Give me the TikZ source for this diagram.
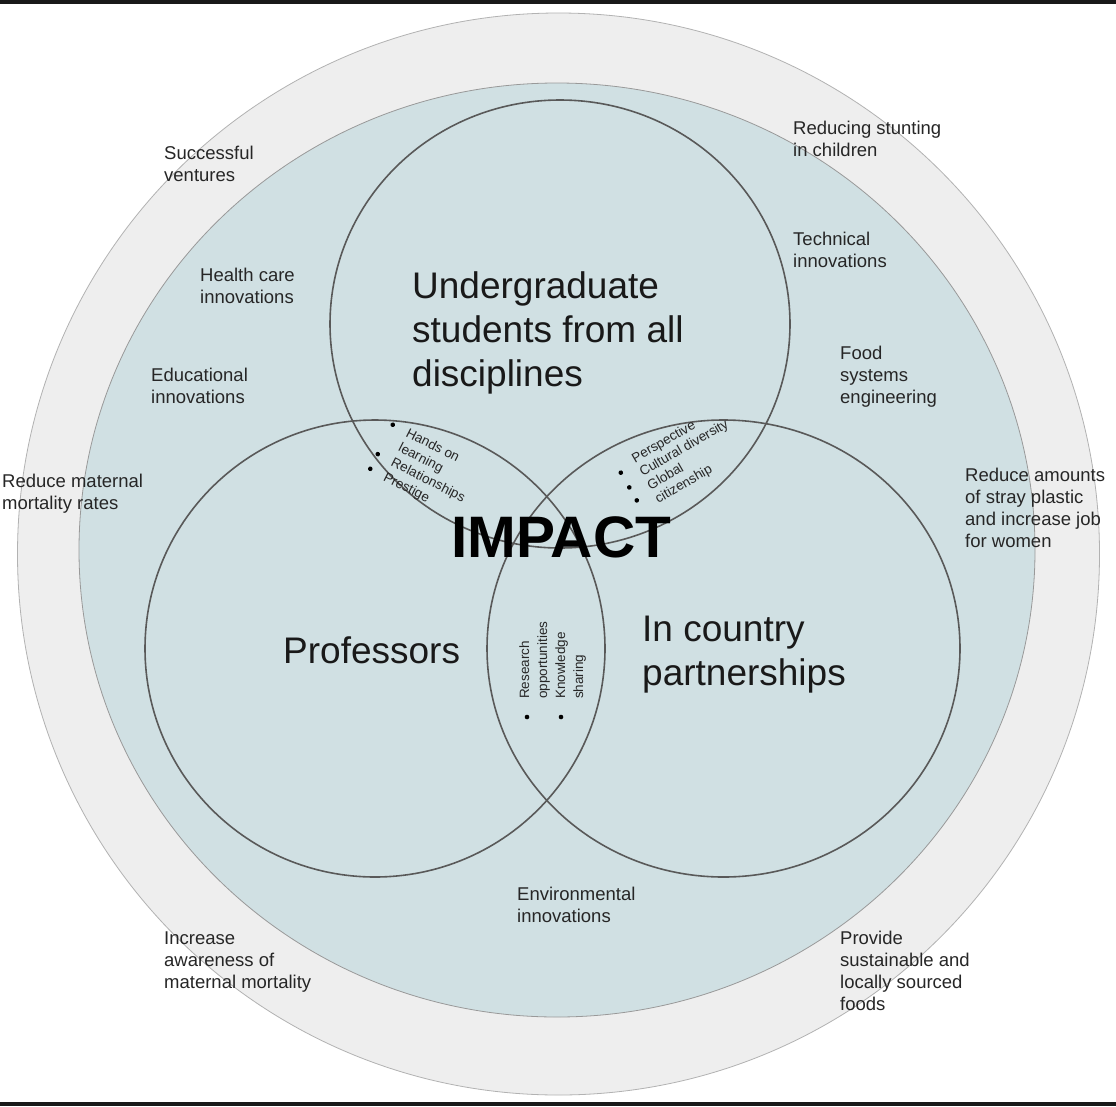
\documentclass[tikz,border=0pt]{standalone}
\usepackage{fontspec}
\setmainfont{Liberation Sans}
\definecolor{bluefill}{HTML}{D0E0E3}
\definecolor{grayfill}{HTML}{EEEEEE}
\begin{document}
\begin{tikzpicture}[x=1pt,y=-1pt,
  lbl/.style={anchor=base west, inner sep=0pt, align=left, font=\fontsize{18.5}{22}\selectfont, text=black!85},
  big/.style={anchor=base west, inner sep=0pt, align=left, font=\fontsize{37}{44}\selectfont, text=black!90},
  tiny/.style={anchor=base west, inner sep=0pt, font=\fontsize{13.5}{16}\selectfont, text=black!85},
  dot/.style={circle, fill=black, inner sep=0pt, minimum size=4.6pt},
  venn/.style={draw=black!65, line width=1.6pt}]
\useasboundingbox (0,0) rectangle (1116,1106);
\fill[white] (0,0) rectangle (1116,1106);
\fill[black!90] (0,0) rectangle (1116,3.5);
\fill[black!90] (0,1101.5) rectangle (1116,1106);
% outer rings
\filldraw[fill=grayfill, draw=black!30, line width=0.8pt] (558.5,554) circle[radius=541];
\filldraw[fill=bluefill, draw=black!40, line width=0.8pt] (557,550) ellipse[x radius=478, y radius=467];
% venn circles
\draw[venn] (560,324) ellipse[x radius=230, y radius=224];
\draw[venn] (375,648.5) ellipse[x radius=230, y radius=228.5];
\draw[venn] (723.5,648.5) ellipse[x radius=236.5, y radius=228.5];
% outer labels (anchor = baseline of last line)
\node[lbl] (succ) at (164,181) {Successful\\ventures};
\node[lbl] (health) at (200,303) {Health care\\innovations};
\node[lbl] (edu) at (151,403) {Educational\\innovations};
\node[lbl] (mat) at (2,509) {Reduce maternal\\mortality rates};
\node[lbl] (stunt) at (793,156) {Reducing stunting\\in children};
\node[lbl] (tech) at (793,267) {Technical\\innovations};
\node[lbl] (food) at (840,403) {Food\\systems\\engineering};
\node[lbl] (plastic) at (965,547) {Reduce amounts\\of stray plastic\\and increase job\\for women};
\node[lbl] (env) at (517,922) {Environmental\\innovations};
\node[lbl] (aware) at (164,988) {Increase\\awareness of\\maternal mortality};
\node[lbl] (foods) at (840,1010) {Provide\\sustainable and\\locally sourced\\foods};
% big labels
\node[big] (ug) at (412,386) {Undergraduate\\students from all\\disciplines};
\node[big] (prof) at (283,663) {Professors};
\node[big] (icp) at (642,685) {In country\\partnerships};
\node[anchor=base west, inner sep=0pt, font=\fontsize{58.5}{60}\selectfont\bfseries, text=black] (impact) at (451,557) {IMPACT};
% left lens list
\begin{scope}[shift={(405,436)}, rotate=-27, transform shape]
  \node[tiny] (la) at (0,0) {Hands on};
  \node[tiny] (lb) at (0,16.5) {learning};
  \node[tiny] (lc) at (0,33) {Relationships};
  \node[tiny] (ld) at (0,49.5) {Prestige};
  \node[dot] (lba) at (-16,-4.5) {};
  \node[dot] (lbc) at (-16,28.5) {};
  \node[dot] (lbd) at (-16,45) {};
\end{scope}
% right lens list
\begin{scope}[shift={(635,463.3)}, rotate=30, transform shape]
  \node[tiny] (ra) at (0,0) {Perspective};
  \node[tiny] (rb) at (0,15.5) {Cultural diversity};
  \node[tiny] (rc) at (0,31) {Global};
  \node[tiny] (rd) at (0,46.5) {citizenship};
  \node[dot] (rba) at (-17,1) {};
  \node[dot] (rbb) at (-17,18) {};
  \node[dot] (rbc) at (-17,33) {};
\end{scope}
% bottom lens list
\begin{scope}[shift={(529,699)}, rotate=90, transform shape]
  \node[tiny] (ba) at (0,0) {Research};
  \node[tiny] (bb) at (0,18) {opportunities};
  \node[tiny] (bc) at (0,36) {Knowledge};
  \node[tiny] (bd) at (0,54) {sharing};
  \node[dot] (bba) at (-18,-2) {};
  \node[dot] (bbc) at (-18,32) {};
\end{scope}
\end{tikzpicture}
\end{document}
